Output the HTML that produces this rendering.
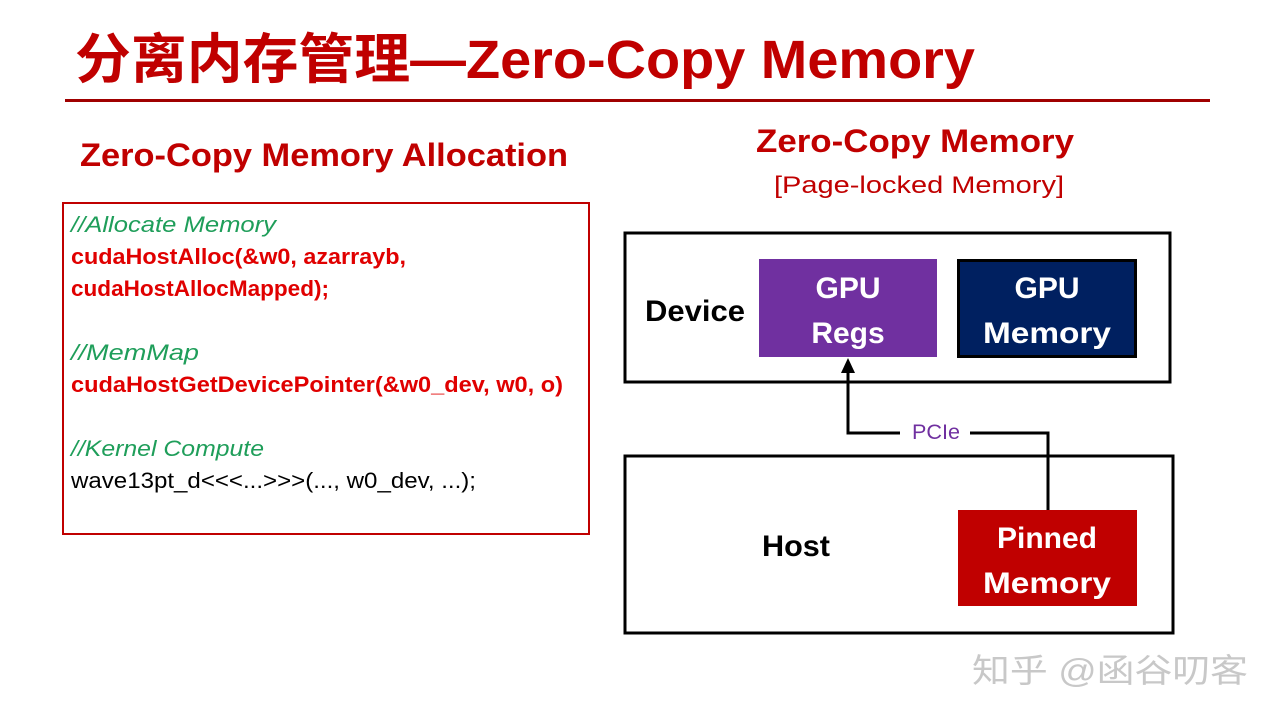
<!DOCTYPE html>
<html><head><meta charset="utf-8"><style>
html,body{margin:0;padding:0;background:#fff;}
svg{display:block;}
</style></head><body>
<svg width="1280" height="720" viewBox="0 0 1280 720" xmlns="http://www.w3.org/2000/svg" font-family="'Liberation Sans','Noto Sans CJK SC',sans-serif">
<rect width="1280" height="720" fill="#fff"/>
<text x="75" y="78" font-size="54" font-weight="bold" fill="#c00000" textLength="900" lengthAdjust="spacingAndGlyphs">分离内存管理—Zero-Copy Memory</text>
<rect x="65" y="99" width="1145" height="3" fill="#a00000"/>
<text x="80" y="166" font-size="32" font-weight="bold" fill="#c00000" textLength="488" lengthAdjust="spacingAndGlyphs">Zero-Copy Memory Allocation</text>
<rect x="63" y="203" width="526" height="331" fill="none" stroke="#c00000" stroke-width="2"/>
<g font-size="22">
<text x="71" y="232" fill="#1f9e5a" font-style="italic" textLength="205" lengthAdjust="spacingAndGlyphs">//Allocate Memory</text>
<text x="71" y="264" fill="#e00000" font-weight="bold" textLength="335" lengthAdjust="spacingAndGlyphs">cudaHostAlloc(&amp;w0, azarrayb,</text>
<text x="71" y="296" fill="#e00000" font-weight="bold" textLength="258" lengthAdjust="spacingAndGlyphs">cudaHostAllocMapped);</text>
<text x="71" y="360" fill="#1f9e5a" font-style="italic" textLength="128" lengthAdjust="spacingAndGlyphs">//MemMap</text>
<text x="71" y="392" fill="#e00000" font-weight="bold" textLength="492" lengthAdjust="spacingAndGlyphs">cudaHostGetDevicePointer(&amp;w0_dev, w0, o)</text>
<text x="71" y="456" fill="#1f9e5a" font-style="italic" textLength="193" lengthAdjust="spacingAndGlyphs">//Kernel Compute</text>
<text x="71" y="488" fill="#000" textLength="405" lengthAdjust="spacingAndGlyphs">wave13pt_d&lt;&lt;&lt;...&gt;&gt;&gt;(..., w0_dev, ...);</text>
</g>
<text x="915" y="152" font-size="32" font-weight="bold" fill="#c00000" text-anchor="middle" textLength="318" lengthAdjust="spacingAndGlyphs">Zero-Copy Memory</text>
<text x="919" y="193" font-size="24" fill="#c00000" text-anchor="middle" textLength="290" lengthAdjust="spacingAndGlyphs">[Page-locked Memory]</text>
<rect x="625" y="233" width="545" height="149" fill="none" stroke="#000" stroke-width="3"/>
<text x="645" y="321" font-size="30" font-weight="bold" fill="#000" textLength="100" lengthAdjust="spacingAndGlyphs">Device</text>
<rect x="759" y="259" width="178" height="98" fill="#7030a0"/>
<text x="848" y="298" font-size="30" font-weight="bold" fill="#fff" text-anchor="middle">GPU</text>
<text x="848" y="343" font-size="30" font-weight="bold" fill="#fff" text-anchor="middle">Regs</text>
<rect x="958.5" y="260.5" width="177" height="96" fill="#002060" stroke="#000" stroke-width="3"/>
<text x="1047" y="298" font-size="30" font-weight="bold" fill="#fff" text-anchor="middle">GPU</text>
<text x="1047" y="343" font-size="30" font-weight="bold" fill="#fff" text-anchor="middle" textLength="128" lengthAdjust="spacingAndGlyphs">Memory</text>
<rect x="625" y="456" width="548" height="177" fill="none" stroke="#000" stroke-width="3"/>
<text x="762" y="556" font-size="30" font-weight="bold" fill="#000" textLength="68" lengthAdjust="spacingAndGlyphs">Host</text>
<rect x="958" y="510" width="179" height="96" fill="#c00000"/>
<text x="1047" y="548" font-size="30" font-weight="bold" fill="#fff" text-anchor="middle">Pinned</text>
<text x="1047" y="593" font-size="30" font-weight="bold" fill="#fff" text-anchor="middle" textLength="128" lengthAdjust="spacingAndGlyphs">Memory</text>
<polyline points="1048,510 1048,433 970,433" fill="none" stroke="#000" stroke-width="3"/>
<polyline points="900,433 848,433 872,433 848,433 848,372" fill="none" stroke="#000" stroke-width="3"/>
<polygon points="848,358 841,373 855,373" fill="#000"/>
<text x="912" y="439" font-size="21" fill="#7030a0" textLength="48" lengthAdjust="spacingAndGlyphs">PCIe</text>
<text x="972" y="682" font-size="33" fill="#c8c8c8" textLength="276" lengthAdjust="spacingAndGlyphs">知乎 @函谷叨客</text>
</svg>
</body></html>
